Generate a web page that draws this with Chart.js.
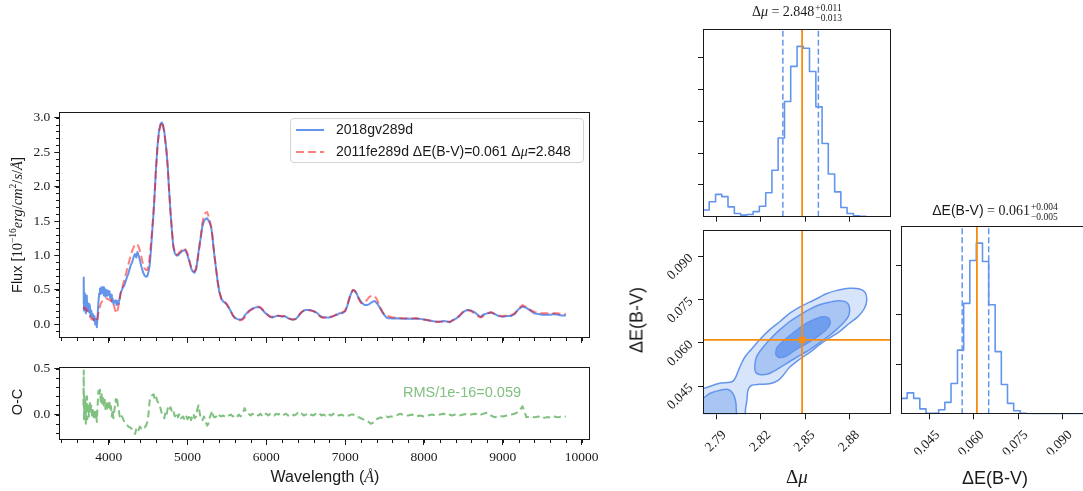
<!DOCTYPE html>
<html>
<head>
<meta charset="utf-8">
<script src="https://cdn.jsdelivr.net/npm/chart.js@4.4.1/dist/chart.umd.min.js"></script>
<style>
  html, body { margin: 0; padding: 0; background: #fff; }
  body { width: 1083px; height: 491px; position: relative; overflow: hidden; color: #1a1a1a; }
  canvas { position: absolute; }
  .lbl { position: absolute; transform: translate(-50%, -50%); white-space: nowrap; }
  .sans { font-family: "Liberation Sans", sans-serif; }
  .serif { font-family: "Liberation Serif", serif; }
  .pm { display: inline-block; vertical-align: middle; font-size: 9.5px; line-height: 10px; text-align: left; margin-left: 1px; }
  sup { font-size: 9.5px; line-height: 0; vertical-align: 6px; }
  #legend { position: absolute; left: 290px; top: 118px; width: 294px; height: 45px; box-sizing: border-box;
            border: 1px solid #d4d4d4; border-radius: 4px; background: rgba(255,255,255,0.8);
            font-family: "Liberation Sans", sans-serif; font-size: 14px; }
  #legend .row { position: absolute; left: 4px; height: 16px; line-height: 16px; white-space: nowrap; }
  #legend svg { vertical-align: middle; margin-right: 11px; }
</style>
</head>
<body>
<canvas id="spec" width="610" height="250" style="left:0;top:100px"></canvas>
<canvas id="resid" width="610" height="135" style="left:0;top:355px"></canvas>
<canvas id="muHist" width="230" height="215" style="left:680px;top:15px"></canvas>
<canvas id="joint" width="275" height="245" style="left:630px;top:215px"></canvas>
<canvas id="ebvHist" width="230" height="245" style="left:880px;top:215px"></canvas>

<div id="legend">
  <div class="row" style="top:2px"><svg width="30" height="6"><line x1="1" y1="3" x2="29" y2="3" stroke="#6495ed" stroke-width="2"/></svg>2018gv289d</div>
  <div class="row" style="top:24px"><svg width="30" height="6"><line x1="1" y1="3" x2="29" y2="3" stroke="rgba(255,0,0,0.5)" stroke-width="2" stroke-dasharray="8 4"/></svg><span id="fitName"></span></div>
</div>

<div class="lbl sans" style="left:17px;top:225px;transform:translate(-50%,-50%) rotate(-90deg);font-size:14.5px">Flux [<span class="serif">10<sup>−16</sup><i>erg</i>/<i>cm</i><sup>2</sup>/<i>s</i>/<i>Å</i></span>]</div>
<div class="lbl sans" style="left:17px;top:402px;transform:translate(-50%,-50%) rotate(-90deg);font-size:14.5px">O-C</div>
<div class="lbl sans" style="left:325px;top:477px;font-size:16px">Wavelength (<i class="serif">Å</i>)</div>
<div class="lbl sans" id="rms" style="left:462px;top:392px;font-size:14.5px;color:#80c080"></div>

<div class="lbl serif" id="muTitle" style="left:797px;top:13px;font-size:14px"></div>
<div class="lbl serif" id="ebvTitle" style="left:995px;top:212px;font-size:14px"></div>
<div class="lbl serif" style="left:797px;top:477px;font-size:19px">Δ<i>μ</i></div>
<div class="lbl sans" style="left:995px;top:478px;font-size:18px">ΔE(B-V)</div>
<div class="lbl sans" style="left:637px;top:320px;transform:translate(-50%,-50%) rotate(-90deg);font-size:18px">ΔE(B-V)</div>

<script>
// spectra at +289 d, flux in 1e-16 erg/cm^2/s/A
const wave = [
  3680, 3684, 3688, 3695, 3700, 3705, 3710, 3715, 3720, 3725,
  3730, 3740, 3750, 3760, 3770, 3780, 3790, 3800, 3810, 3820,
  3830, 3840, 3850, 3860, 3870, 3880, 3890, 3900, 3910, 3920,
  3930, 3940, 3950, 3960, 3970, 3980, 3990, 4000, 4010, 4020,
  4030, 4040, 4050, 4060, 4070, 4080, 4090, 4100, 4110, 4120,
  4130, 4140, 4150, 4175, 4200, 4225, 4250, 4275, 4300, 4320,
  4335, 4350, 4365, 4380, 4395, 4415, 4435, 4455, 4475, 4490,
  4505, 4520, 4535, 4550, 4570, 4585, 4600, 4620, 4640, 4660,
  4677, 4690, 4705, 4720, 4735, 4750, 4765, 4785, 4805, 4820,
  4840, 4860, 4880, 4900, 4920, 4945, 4965, 4985, 5000, 5015,
  5030, 5045, 5060, 5075, 5090, 5110, 5125, 5140, 5155, 5170,
  5190, 5210, 5230, 5250, 5265, 5280, 5300, 5315, 5330, 5345,
  5365, 5385, 5405, 5430, 5455, 5480, 5500, 5525, 5550, 5575,
  5600, 5625, 5650, 5675, 5700, 5725, 5750, 5775, 5800, 5825,
  5850, 5875, 5900, 5925, 5950, 5975, 6000, 6025, 6050, 6075,
  6100, 6125, 6150, 6175, 6200, 6225, 6250, 6275, 6300, 6325,
  6350, 6375, 6400, 6425, 6450, 6475, 6500, 6525, 6550, 6575,
  6600, 6625, 6650, 6675, 6700, 6725, 6750, 6775, 6800, 6825,
  6850, 6875, 6900, 6925, 6950, 6975, 7000, 7025, 7050, 7075,
  7100, 7120, 7140, 7160, 7180, 7200, 7225, 7250, 7275, 7300,
  7325, 7350, 7375, 7400, 7425, 7450, 7475, 7500, 7525, 7550,
  7575, 7600, 7650, 7700, 7750, 7800, 7850, 7900, 7950, 8000,
  8050, 8100, 8150, 8200, 8250, 8300, 8330, 8350, 8400, 8450,
  8500, 8550, 8600, 8650, 8700, 8725, 8750, 8800, 8850, 8900,
  8950, 9000, 9050, 9100, 9150, 9200, 9250, 9300, 9350, 9400,
  9450, 9500, 9550, 9600, 9650, 9700, 9750, 9800
];
const obsFlux = [
  0.30, 0.68, 0.20, 0.45, 0.22, 0.40, 0.16, 0.35, 0.25, 0.42,
  0.20, 0.30, 0.18, 0.28, 0.12, 0.20, 0.10, 0.15, 0.06, 0.12,
  0.00, 0.08, -0.04, 0.12, 0.32, 0.45, 0.52, 0.44, 0.54, 0.46,
  0.54, 0.42, 0.52, 0.40, 0.50, 0.42, 0.49, 0.44, 0.48, 0.38,
  0.43, 0.33, 0.38, 0.30, 0.34, 0.32, 0.35, 0.28, 0.34, 0.30,
  0.35, 0.36, 0.45, 0.52, 0.57, 0.66, 0.74, 0.84, 0.91, 0.99,
  1.02, 0.97, 1.05, 1.00, 0.94, 0.84, 0.76, 0.71, 0.69, 0.70,
  0.76, 0.85, 1.05, 1.30, 1.62, 1.92, 2.25, 2.60, 2.82, 2.91,
  2.93, 2.88, 2.80, 2.66, 2.50, 2.28, 1.98, 1.62, 1.32, 1.13,
  1.03, 1.00, 1.00, 1.03, 1.05, 1.07, 1.08, 1.05, 1.00, 0.95,
  0.89, 0.82, 0.78, 0.76, 0.75, 0.80, 0.92, 1.05, 1.17, 1.27,
  1.43, 1.50, 1.53, 1.54, 1.51, 1.48, 1.41, 1.30, 1.12, 0.97,
  0.78, 0.60, 0.47, 0.37, 0.33, 0.31, 0.29, 0.24, 0.19, 0.13,
  0.10, 0.08, 0.07, 0.07, 0.08, 0.13, 0.16, 0.19, 0.21, 0.23,
  0.24, 0.25, 0.25, 0.24, 0.21, 0.18, 0.15, 0.13, 0.11, 0.10,
  0.11, 0.12, 0.12, 0.12, 0.11, 0.12, 0.11, 0.09, 0.08, 0.07,
  0.07, 0.08, 0.11, 0.15, 0.18, 0.20, 0.21, 0.21, 0.21, 0.20,
  0.19, 0.18, 0.16, 0.13, 0.11, 0.10, 0.10, 0.10, 0.10, 0.11,
  0.12, 0.13, 0.14, 0.16, 0.16, 0.17, 0.19, 0.26, 0.36, 0.45,
  0.50, 0.49, 0.46, 0.41, 0.37, 0.33, 0.30, 0.28, 0.28, 0.29,
  0.31, 0.33, 0.34, 0.31, 0.27, 0.22, 0.17, 0.13, 0.10, 0.09,
  0.09, 0.085, 0.09, 0.085, 0.08, 0.085, 0.08, 0.085, 0.08, 0.07,
  0.06, 0.05, 0.04, 0.04, 0.05, 0.04, 0.03, 0.05, 0.08, 0.12,
  0.18, 0.21, 0.20, 0.17, 0.12, 0.11, 0.14, 0.16, 0.17, 0.15,
  0.12, 0.11, 0.12, 0.12, 0.15, 0.22, 0.26, 0.24, 0.20, 0.16,
  0.15, 0.14, 0.14, 0.14, 0.15, 0.14, 0.13, 0.13
];
const modelFlux = [
  0.22, 0.24, 0.24, 0.24, 0.23, 0.22, 0.22, 0.22, 0.21, 0.20,
  0.19, 0.17, 0.14, 0.12, 0.10, 0.08, 0.07, 0.08, 0.07, 0.06,
  0.05, 0.04, 0.05, 0.09, 0.16, 0.22, 0.26, 0.30, 0.32, 0.34,
  0.34, 0.35, 0.36, 0.36, 0.37, 0.38, 0.37, 0.36, 0.35, 0.35,
  0.34, 0.35, 0.33, 0.30, 0.26, 0.22, 0.18, 0.16, 0.18, 0.24,
  0.31, 0.38, 0.44, 0.55, 0.65, 0.76, 0.87, 0.98, 1.07, 1.13,
  1.16, 1.17, 1.16, 1.13, 1.07, 0.98, 0.88, 0.81, 0.79, 0.79,
  0.85, 0.97, 1.15, 1.35, 1.65, 1.93, 2.24, 2.58, 2.80, 2.90,
  2.94, 2.89, 2.80, 2.65, 2.50, 2.28, 1.98, 1.63, 1.33, 1.14,
  1.03, 1.01, 1.02, 1.05, 1.07, 1.10, 1.11, 1.07, 1.03, 0.97,
  0.90, 0.84, 0.80, 0.77, 0.77, 0.82, 0.90, 1.03, 1.15, 1.30,
  1.48, 1.58, 1.62, 1.63, 1.58, 1.52, 1.42, 1.28, 1.12, 0.97,
  0.79, 0.61, 0.47, 0.37, 0.34, 0.32, 0.29, 0.24, 0.19, 0.13,
  0.09, 0.07, 0.06, 0.06, 0.07, 0.10, 0.14, 0.18, 0.21, 0.22,
  0.24, 0.25, 0.26, 0.25, 0.22, 0.19, 0.16, 0.13, 0.11, 0.11,
  0.12, 0.13, 0.13, 0.12, 0.12, 0.12, 0.11, 0.10, 0.08, 0.07,
  0.07, 0.08, 0.11, 0.15, 0.18, 0.20, 0.21, 0.21, 0.20, 0.20,
  0.19, 0.17, 0.15, 0.12, 0.10, 0.10, 0.10, 0.10, 0.11, 0.11,
  0.12, 0.14, 0.15, 0.16, 0.17, 0.18, 0.20, 0.27, 0.37, 0.46,
  0.50, 0.49, 0.45, 0.40, 0.35, 0.31, 0.31, 0.33, 0.35, 0.39,
  0.41, 0.42, 0.41, 0.37, 0.30, 0.24, 0.18, 0.14, 0.12, 0.12,
  0.11, 0.10, 0.10, 0.09, 0.09, 0.09, 0.09, 0.09, 0.08, 0.07,
  0.06, 0.05, 0.04, 0.04, 0.04, 0.04, 0.04, 0.05, 0.08, 0.13,
  0.19, 0.21, 0.19, 0.15, 0.11, 0.10, 0.12, 0.16, 0.18, 0.15,
  0.13, 0.12, 0.13, 0.13, 0.16, 0.23, 0.28, 0.25, 0.21, 0.18,
  0.17, 0.16, 0.16, 0.16, 0.16, 0.16, 0.15, 0.15
];
// observed minus model
const residual = [
  0.10, 0.48, -0.05, 0.22, -0.03, 0.18, -0.10, 0.12, 0.02, 0.20,
  -0.05, 0.10, -0.02, 0.14, 0.02, 0.10, -0.02, 0.05, -0.04, 0.06,
  -0.06, 0.03, -0.08, 0.10, 0.26, 0.20, 0.27, 0.14, 0.22, 0.12,
  0.20, 0.08, 0.16, 0.06, 0.14, 0.05, 0.12, 0.08, 0.13, 0.04,
  0.09, -0.02, 0.05, -0.04, 0.02, 0.10, 0.17, 0.12, 0.16, 0.06,
  0.04, -0.02, 0.01, -0.03, -0.08, -0.10, -0.13, -0.14, -0.16, -0.18,
  -0.21, -0.16, -0.14, -0.17, -0.13, -0.15, -0.13, -0.14, -0.12, -0.08,
  0.00, 0.15, 0.20, 0.21, 0.22, 0.17, 0.20, 0.14, 0.12, 0.06,
  0.00, -0.02, -0.04, 0.03, 0.00, 0.07, 0.04, 0.08, 0.03, 0.05,
  -0.02, 0.02, -0.03, 0.01, -0.04, -0.02, -0.06, -0.02, -0.05, -0.03,
  0.00, -0.06, -0.02, 0.01, -0.04, -0.02, 0.06, 0.10, 0.02, -0.05,
  -0.06, -0.02, -0.08, -0.12, -0.10, -0.04, 0.01, 0.04, -0.02, -0.03,
  -0.02, -0.04, -0.01, -0.02, -0.01, -0.03, -0.02, -0.01, 0.00, -0.02,
  -0.01, -0.03, 0.00, -0.02, 0.01, 0.07, 0.02, 0.01, -0.01, 0.01,
  -0.01, 0.00, -0.01, 0.01, -0.02, 0.00, 0.01, -0.01, 0.01, 0.00,
  -0.01, 0.01, 0.00, 0.01, -0.01, 0.00, 0.01, -0.01, 0.00, 0.01,
  -0.01, 0.00, 0.02, 0.00, 0.01, -0.01, 0.00, 0.01, -0.01, 0.00,
  -0.01, 0.01, 0.00, 0.01, -0.01, 0.00, -0.01, 0.01, 0.00, -0.01,
  0.01, -0.01, 0.00, -0.01, 0.00, -0.01, 0.00, -0.01, -0.01, 0.00,
  0.00, -0.01, -0.02, -0.03, -0.03, -0.04, -0.05, -0.06, -0.07, -0.08,
  -0.10, -0.09, -0.06, -0.05, -0.04, -0.03, -0.04, -0.03, -0.02, -0.03,
  -0.02, -0.02, -0.01, 0.01, -0.01, -0.01, 0.00, -0.02, -0.01, -0.02,
  -0.01, 0.00, -0.01, 0.00, 0.01, -0.01, 0.00, -0.01, 0.00, -0.01,
  0.00, 0.01, 0.00, 0.01, -0.01, 0.00, 0.01, 0.02, -0.01, -0.03,
  -0.01, -0.02, -0.01, 0.00, 0.01, 0.03, 0.09, -0.03, -0.02, -0.03,
  -0.02, -0.04, -0.03, -0.03, -0.02, -0.03, -0.02, -0.02
];
const rms = 0.059;

// fit result (median and 16/84 percentiles)
const muBest = 2.848, muErrHi = 0.011, muErrLo = 0.013;
const ebvBest = 0.061, ebvErrHi = 0.004, ebvErrLo = 0.005;

// marginal histograms, 30 bins
const muEdges = [
  2.7810, 2.7852, 2.7895, 2.7937, 2.7979, 2.8022, 2.8064, 2.8107, 2.8149, 2.8191,
  2.8234, 2.8276, 2.8318, 2.8361, 2.8403, 2.8446, 2.8488, 2.8530, 2.8573, 2.8615,
  2.8657, 2.8700, 2.8742, 2.8784, 2.8827, 2.8869, 2.8911, 2.8954, 2.8996, 2.9038, 2.9081
];
const muCounts = [
  0.21, 0.47, 0.70, 0.63, 0.31, 0.10, 0.05, 0.07, 0.16, 0.33,
  0.75, 1.46, 2.47, 3.62, 4.72, 5.35, 5.29, 4.56, 3.45, 2.30,
  1.34, 0.78, 0.29, 0.10, 0.03, 0.01, 0, 0, 0, 0
];
const ebvEdges = [
  0.0352, 0.0373, 0.0395, 0.0416, 0.0437, 0.0459, 0.0480, 0.0501, 0.0522, 0.0544,
  0.0565, 0.0586, 0.0608, 0.0629, 0.0650, 0.0672, 0.0693, 0.0714, 0.0735, 0.0757,
  0.0778, 0.0799, 0.0821, 0.0842, 0.0863, 0.0885, 0.0906, 0.0927, 0.0948, 0.0970, 0.0991
];
const ebvCounts = [
  0.32, 0.43, 0.32, 0.11, 0.02, 0.02, 0.09, 0.24, 0.62, 1.29,
  2.23, 3.09, 3.44, 3.07, 2.20, 1.26, 0.60, 0.22, 0.07, 0.02,
  0.01, 0, 0, 0, 0, 0, 0, 0, 0, 0
];

// 2d density contours, (dmu, dE(B-V))
const contourOuter = [
  [2.7760, 0.0436], [2.7810, 0.0441], [2.7922, 0.0460], [2.8013, 0.0467], [2.8058, 0.0515],
  [2.8091, 0.0549], [2.8136, 0.0577], [2.8193, 0.0611], [2.8260, 0.0645], [2.8328, 0.0673],
  [2.8395, 0.0702], [2.8463, 0.0724], [2.8530, 0.0741], [2.8598, 0.0758], [2.8643, 0.0770],
  [2.8710, 0.0781], [2.8800, 0.0789], [2.8868, 0.0787], [2.8906, 0.0775], [2.8917, 0.0747],
  [2.8901, 0.0719], [2.8856, 0.0690], [2.8800, 0.0668], [2.8733, 0.0639], [2.8665, 0.0617],
  [2.8598, 0.0594], [2.8530, 0.0566], [2.8463, 0.0543], [2.8395, 0.0515], [2.8350, 0.0486],
  [2.8316, 0.0469], [2.8260, 0.0458], [2.8193, 0.0456], [2.8136, 0.0452], [2.8114, 0.0435],
  [2.8107, 0.0401], [2.8098, 0.0373], [2.8085, 0.0340], [2.7760, 0.0340], [2.7760, 0.0436]
];
const contourMidTail = [
  [2.7760, 0.0400], [2.7810, 0.0407], [2.7855, 0.0424], [2.7922, 0.0435], [2.7979, 0.0438],
  [2.8013, 0.0424], [2.8031, 0.0396], [2.8035, 0.0367], [2.8031, 0.0340], [2.7760, 0.0340],
  [2.7760, 0.0400]
];
const contourMid = [
  [2.8159, 0.0515], [2.8170, 0.0549], [2.8204, 0.0577], [2.8260, 0.0611], [2.8328, 0.0645],
  [2.8395, 0.0673], [2.8463, 0.0696], [2.8530, 0.0716], [2.8598, 0.0732], [2.8665, 0.0741],
  [2.8733, 0.0746], [2.8778, 0.0741], [2.8800, 0.0724], [2.8796, 0.0696], [2.8766, 0.0673],
  [2.8710, 0.0645], [2.8643, 0.0617], [2.8575, 0.0592], [2.8508, 0.0569], [2.8440, 0.0549],
  [2.8373, 0.0528], [2.8305, 0.0506], [2.8249, 0.0492], [2.8193, 0.0490], [2.8166, 0.0498],
  [2.8159, 0.0515]
];
const contourInner = [
  [2.8301, 0.0560], [2.8310, 0.0583], [2.8350, 0.0605], [2.8418, 0.0634], [2.8485, 0.0660],
  [2.8553, 0.0679], [2.8620, 0.0690], [2.8661, 0.0685], [2.8670, 0.0668], [2.8643, 0.0645],
  [2.8586, 0.0622], [2.8519, 0.0600], [2.8440, 0.0577], [2.8373, 0.0554], [2.8323, 0.0549],
  [2.8301, 0.0560]
];

// axis limits
const waveRange = [3374, 10106];
const fluxRange = [-0.196, 3.08];
const residRange = [-0.276, 0.516];
const muRange = [2.781, 2.9081];
const ebvRange = [0.0352, 0.0991];
const muTop = Math.max(...muCounts) * 1.1;
const ebvTop = Math.max(...ebvCounts) * 1.1;

const BLUE = '#6495ed';
const ORANGE = '#f98c10';
const INK = '#1a1a1a';
const SERIF = "'Liberation Serif', 'DejaVu Serif', serif";

const xy = (xs, ys) => xs.map((x, i) => ({x, y: ys[i]}));
const pairs = p => p.map(([x, y]) => ({x, y}));
const steps = (edges, counts) => edges.map((x, i) => ({x, y: counts[Math.min(i, counts.length - 1)]}));
const vline = (x, y0, y1) => [{x, y: y0}, {x, y: y1}];
const hline = (y, x0, x1) => [{x: x0, y}, {x: x1, y}];

function line(data, color, width, extra) {
  return Object.assign({
    data, showLine: true, borderColor: color, borderWidth: width,
    pointRadius: 0, borderJoinStyle: 'round', fill: false
  }, extra);
}

// full box around the axes + minor ticks
const frame = {
  id: 'frame',
  afterDatasetsDraw(chart, args, opts) {
    const {ctx, chartArea: a, scales} = chart;
    const l = Math.round(a.left) + 0.5, t = Math.round(a.top) + 0.5;
    const r = Math.round(a.right) - 0.5, b = Math.round(a.bottom) - 0.5;
    ctx.save();
    ctx.strokeStyle = INK;
    ctx.lineWidth = 1;
    ctx.beginPath();
    if (opts.minorX) {
      const s = scales.x, st = opts.minorX;
      for (let k = Math.ceil(s.min / st); k * st <= s.max; k++) {
        const px = Math.round(s.getPixelForValue(k * st)) + 0.5;
        ctx.moveTo(px, b + 0.5); ctx.lineTo(px, b + 3.5);
      }
    }
    if (opts.minorY) {
      const s = scales.y, st = opts.minorY;
      for (let k = Math.ceil(s.min / st - 1e-9); k * st <= s.max + 1e-9; k++) {
        const py = Math.round(s.getPixelForValue(k * st)) + 0.5;
        ctx.moveTo(l - 0.5, py); ctx.lineTo(l - 3.5, py);
      }
    }
    ctx.stroke();
    ctx.strokeRect(l, t, r - l, b - t);
    ctx.restore();
  }
};

function scale(o) {
  return {
    type: 'linear',
    min: o.range[0],
    max: o.range[1],
    afterFit: s => { if (s.isHorizontal()) s.height = o.size; else s.width = o.size; },
    // major ticks on whole multiples of the step, like a MultipleLocator
    afterBuildTicks: s => {
      const out = [];
      for (let k = Math.ceil(s.min / o.step - 1e-9); k * o.step <= s.max + 1e-9; k++) {
        const v = +(k * o.step).toFixed(6);
        if (!(o.pruneZero && v <= 0)) out.push({ value: v });
      }
      s.ticks = out;
    },
    grid: { drawOnChartArea: false, drawTicks: true, tickLength: 5, color: INK, lineWidth: 1 },
    border: { display: false },
    ticks: {
      display: !!o.fmt,
      autoSkip: false,
      minRotation: o.rot || 0,
      maxRotation: o.rot || 0,
      padding: o.pad || 4,
      labelOffset: o.shift || 0,
      color: INK,
      font: { family: SERIF, size: 13.5 },
      callback: o.fmt || (() => '')
    }
  };
}

function options(padding, scales, frameOpts) {
  return {
    responsive: false,
    animation: false,
    events: [],
    layout: { padding },
    plugins: { legend: { display: false }, tooltip: { enabled: false }, frame: frameOpts || {} },
    scales
  };
}

// spectrum comparison
new Chart(document.getElementById('spec'), {
  type: 'scatter',
  data: { datasets: [
    line(xy(wave, modelFlux), 'rgba(255,0,0,0.5)', 2, { borderDash: [8, 4], order: 1 }),
    line(xy(wave, obsFlux), BLUE, 2, { order: 2 })
  ]},
  options: options({ left: 14.3, right: 20, top: 10.4, bottom: 5 }, {
    x: scale({ range: waveRange, step: 1000, size: 6 }),
    y: scale({ range: fluxRange, step: 0.5, size: 45, fmt: v => v.toFixed(1) })
  }, { minorX: 200, minorY: 0.1 }),
  plugins: [frame]
});

// residuals
new Chart(document.getElementById('resid'), {
  type: 'scatter',
  data: { datasets: [
    line(xy(wave, residual), '#80c080', 2, { borderDash: [7, 4] })
  ]},
  options: options({ left: 14.3, right: 20, top: 10, bottom: 20 }, {
    x: scale({ range: waveRange, step: 1000, size: 30, pad: 4, fmt: v => String(v) }),
    y: scale({ range: residRange, step: 0.5, size: 45, fmt: v => v.toFixed(1) })
  }, { minorX: 200, minorY: 0.1 }),
  plugins: [frame]
});

// dmu marginal
new Chart(document.getElementById('muHist'), {
  type: 'scatter',
  data: { datasets: [
    line(vline(muBest, 0, muTop), ORANGE, 1.8, { order: 1 }),
    line(vline(muBest - muErrLo, 0, muTop), BLUE, 1.5, { borderDash: [6, 3], order: 2 }),
    line(vline(muBest + muErrHi, 0, muTop), BLUE, 1.5, { borderDash: [6, 3], order: 2 }),
    line(steps(muEdges, muCounts), BLUE, 1.6, { stepped: 'before', order: 3 })
  ]},
  options: options({ left: 18, right: 19, top: 14.3, bottom: 8.3 }, {
    x: scale({ range: muRange, step: 0.03, size: 5 }),
    y: scale({ range: [0, muTop], step: 1, size: 5, pruneZero: true })
  }),
  plugins: [frame]
});

// joint posterior
new Chart(document.getElementById('joint'), {
  type: 'scatter',
  data: { datasets: [
    line(pairs(contourOuter), BLUE, 1.5, { fill: 'shape', backgroundColor: '#d8e4fa', tension: 0.3, clip: 0, order: 6 }),
    line(pairs(contourMidTail), BLUE, 1.5, { fill: 'shape', backgroundColor: '#a9c5f3', tension: 0.3, clip: 0, order: 5 }),
    line(pairs(contourMid), BLUE, 1.5, { fill: 'shape', backgroundColor: '#a9c5f3', tension: 0.3, clip: 0, order: 5 }),
    line(pairs(contourInner), BLUE, 1.5, { fill: 'shape', backgroundColor: '#6f9eee', tension: 0.3, clip: 0, order: 4 }),
    line(vline(muBest, ebvRange[0], ebvRange[1]), ORANGE, 1.8, { order: 2 }),
    line(hline(ebvBest, muRange[0], muRange[1]), ORANGE, 1.8, { order: 2 }),
    { data: [{ x: muBest, y: ebvBest }], pointStyle: 'rect', pointRadius: 4.5,
      backgroundColor: ORANGE, borderWidth: 0, order: 1 }
  ]},
  options: options({ left: 23, right: 14, top: 11, bottom: 5.7 }, {
    x: scale({ range: muRange, step: 0.03, size: 40, rot: 45, pad: 8, shift: 8, fmt: v => v.toFixed(2) }),
    y: scale({ range: ebvRange, step: 0.015, size: 50, rot: 45, pad: 7, fmt: v => v.toFixed(3) })
  }),
  plugins: [frame]
});

// dE(B-V) marginal
new Chart(document.getElementById('ebvHist'), {
  type: 'scatter',
  data: { datasets: [
    line(vline(ebvBest, 0, ebvTop), ORANGE, 1.8, { order: 1 }),
    line(vline(ebvBest - ebvErrLo, 0, ebvTop), BLUE, 1.5, { borderDash: [6, 3], order: 2 }),
    line(vline(ebvBest + ebvErrHi, 0, ebvTop), BLUE, 1.5, { borderDash: [6, 3], order: 2 }),
    line(steps(ebvEdges, ebvCounts), BLUE, 1.6, { stepped: 'before', order: 3 })
  ]},
  options: options({ left: 16, right: 21, top: 11, bottom: 5.7 }, {
    x: scale({ range: ebvRange, step: 0.015, size: 40, rot: 45, pad: 8, shift: 8, fmt: v => v.toFixed(3) }),
    y: scale({ range: [0, ebvTop], step: 1, size: 5, pruneZero: true })
  }),
  plugins: [frame]
});

// titles and labels built from the same fit numbers
function pmTitle(name, best, hi, lo) {
  return `${name} = ${best.toFixed(3)}<span class="pm">+${hi.toFixed(3)}<br>−${lo.toFixed(3)}</span>`;
}
document.getElementById('muTitle').innerHTML = pmTitle('Δ<i>μ</i>', muBest, muErrHi, muErrLo);
document.getElementById('ebvTitle').innerHTML = pmTitle('<span class="sans">ΔE(B-V)</span>', ebvBest, ebvErrHi, ebvErrLo);
document.getElementById('fitName').innerHTML =
  `2011fe289d ΔE(B-V)=${ebvBest.toFixed(3)} Δ<i class="serif">μ</i>=${muBest.toFixed(3)}`;
document.getElementById('rms').textContent = `RMS/1e-16=${rms.toFixed(3)}`;
</script>
</body>
</html>
